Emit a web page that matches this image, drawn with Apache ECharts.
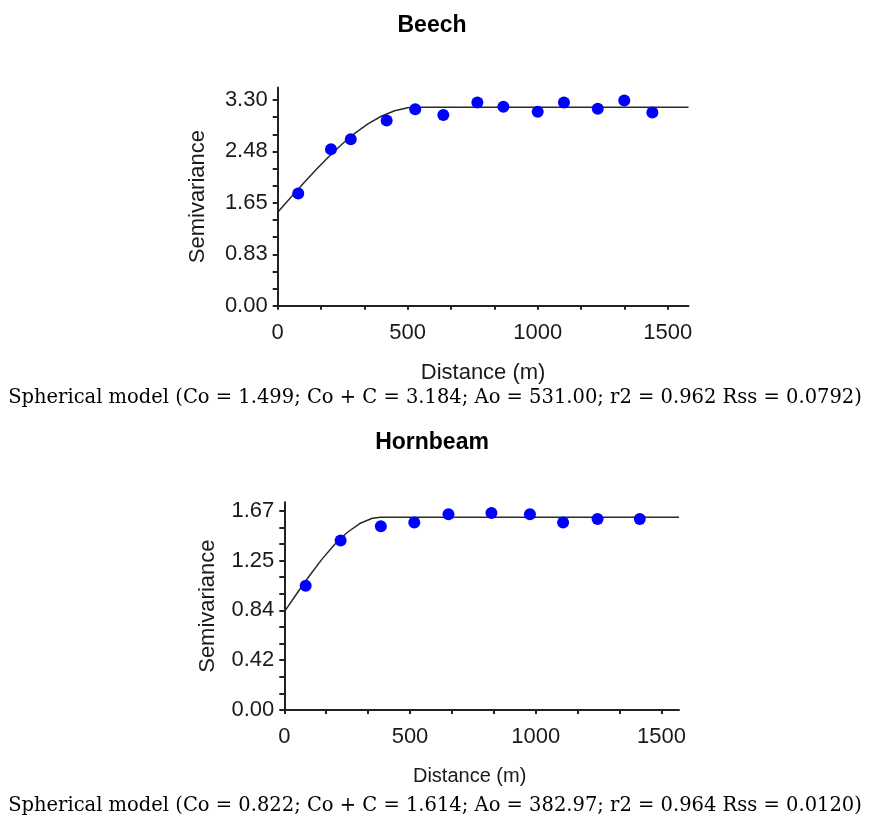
<!DOCTYPE html>
<html>
<head>
<meta charset="utf-8">
<script src="https://cdn.jsdelivr.net/npm/echarts@6/dist/echarts.min.js"></script>
<style>
html,body{margin:0;padding:0;background:#fff;}
#chart{width:869px;height:823px;}
</style>
</head>
<body>
<div id="chart"></div>
<script>
// ---- Data ----
const beechDist = [79, 205, 281, 419, 529, 637, 768, 868, 1000, 1101, 1231, 1333, 1441];
const beechSemi = [1.80, 2.51, 2.67, 2.97, 3.15, 3.06, 3.26, 3.19, 3.11, 3.26, 3.16, 3.29, 3.10];
const beechModelDist = [0, 50, 100, 150, 200, 250, 300, 350, 400, 450, 500, 531, 1580];
const beechModelSemi = [1.499, 1.736, 1.969, 2.194, 2.406, 2.601, 2.775, 2.924, 3.043, 3.128, 3.176, 3.184, 3.184];

const hornDist = [85, 224, 384, 517, 653, 824, 977, 1109, 1246, 1414];
const hornSemi = [1.04, 1.42, 1.54, 1.57, 1.64, 1.65, 1.64, 1.57, 1.60, 1.60];
const hornModelDist = [0, 50, 100, 150, 200, 250, 300, 350, 383, 1570];
const hornModelSemi = [0.822, 0.976, 1.125, 1.264, 1.386, 1.487, 1.562, 1.606, 1.614, 1.614];

const xTickValues = [0, 500, 1000, 1500];
const xTickLabels = ['0', '500', '1000', '1500'];
const beechYTickValues = [0, 0.825, 1.65, 2.475, 3.30];
const beechYTickLabels = ['0.00', '0.83', '1.65', '2.48', '3.30'];
const hornYTickValues = [0, 0.4175, 0.835, 1.2525, 1.67];
const hornYTickLabels = ['0.00', '0.42', '0.84', '1.25', '1.67'];

const titles = ['Beech', 'Hornbeam'];
const captions = [
  'Spherical model (Co = 1.499; Co + C = 3.184; Ao = 531.00; r2 = 0.962 Rss = 0.0792)',
  'Spherical model (Co = 0.822; Co + C = 1.614; Ao = 382.97; r2 = 0.964 Rss = 0.0120)'
];
const xName = 'Distance (m)';
const yName = 'Semivariance';

// ---- Build helpers ----
function withMinor(major) {
  const out = [];
  for (let i = 0; i < major.length; i++) {
    out.push(major[i]);
    if (i < major.length - 1) {
      const step = (major[i + 1] - major[i]) / 3;
      out.push(major[i] + step, major[i] + 2 * step);
    }
  }
  return out;
}
function labelFor(values, labels) {
  return function (v) {
    let best = 0, d = Infinity;
    values.forEach((t, i) => { const dd = Math.abs(t - v); if (dd < d) { d = dd; best = i; } });
    return labels[best];
  };
}
const font = 'Liberation Sans, Arial, sans-serif';
const axisColor = '#222';
const textColor = '#1a1a1a';

function xAxes(gridIndex, max, nameGap, nameSize, namePad) {
  const ticks = withMinor(xTickValues);
  return [{
    type: 'value', gridIndex, min: 0, max,
    splitLine: { show: false },
    axisLine: { show: true, onZero: false, lineStyle: { color: axisColor, width: 2 } },
    axisTick: { show: true, length: 4, customValues: ticks, lineStyle: { color: axisColor, width: 2 } },
    axisLabel: { show: true, customValues: xTickValues, formatter: labelFor(xTickValues, xTickLabels),
      fontFamily: font, fontSize: 22, color: textColor, margin: 16 },
    name: xName, nameLocation: 'middle', nameGap,
    nameTextStyle: { fontFamily: font, fontSize: nameSize, color: textColor, padding: namePad }
  }, {
    type: 'value', gridIndex, min: 0, max,
    splitLine: { show: false },
    axisLine: { show: false },
    axisTick: { show: true, inside: true, length: 4, customValues: ticks, lineStyle: { color: axisColor, width: 2 } },
    axisLabel: { show: false }
  }];
}
function yAxes(gridIndex, max, vals, labs, nameGap) {
  const ticks = withMinor(vals);
  return [{
    type: 'value', gridIndex, min: 0, max,
    splitLine: { show: false },
    axisLine: { show: true, onZero: false, lineStyle: { color: axisColor, width: 2 } },
    axisTick: { show: true, length: 5, customValues: ticks, lineStyle: { color: axisColor, width: 2 } },
    axisLabel: { show: true, customValues: vals, formatter: labelFor(vals, labs),
      fontFamily: font, fontSize: 22, color: textColor, margin: 10 },
    name: yName, nameLocation: 'middle', nameRotate: 90, nameGap,
    nameTextStyle: { fontFamily: font, fontSize: 22, color: textColor }
  }, {
    type: 'value', gridIndex, min: 0, max,
    splitLine: { show: false },
    axisLine: { show: false },
    axisTick: { show: true, inside: true, length: 5, customValues: ticks, lineStyle: { color: axisColor, width: 2 } },
    axisLabel: { show: false }
  }];
}
function pairs(xs, ys) { return xs.map((x, i) => [x, ys[i]]); }

const chart = echarts.init(document.getElementById('chart'), null, { renderer: 'canvas' });
const option = {
  backgroundColor: '#fff',
  animation: false,
  grid: [
    { left: 277.7, top: 87.5, width: 410.8, height: 218.2 },
    { left: 284.3, top: 502.3, width: 394.7, height: 207.7 }
  ],
  xAxis: [].concat(xAxes(0, 1580, 56, 22, 0), xAxes(1, 1570, 56, 20, [0, 24, 0, 0])),
  yAxis: [].concat(yAxes(0, 3.5, beechYTickValues, beechYTickLabels, 69),
                   yAxes(1, 1.74, hornYTickValues, hornYTickLabels, 65)),
  series: [
    { type: 'line', xAxisIndex: 0, yAxisIndex: 0, data: pairs(beechModelDist, beechModelSemi),
      showSymbol: false, smooth: false, lineStyle: { color: '#2a2a2a', width: 1.5 }, z: 2 },
    { type: 'scatter', xAxisIndex: 0, yAxisIndex: 0, data: pairs(beechDist, beechSemi),
      symbolSize: 12, itemStyle: { color: '#0000ff', opacity: 1 }, z: 3 },
    { type: 'line', xAxisIndex: 2, yAxisIndex: 2, data: pairs(hornModelDist, hornModelSemi),
      showSymbol: false, smooth: false, lineStyle: { color: '#2a2a2a', width: 1.5 }, z: 2 },
    { type: 'scatter', xAxisIndex: 2, yAxisIndex: 2, data: pairs(hornDist, hornSemi),
      symbolSize: 12, itemStyle: { color: '#0000ff', opacity: 1 }, z: 3 }
  ],
  graphic: [
    { type: 'text', x: 432, y: 26, style: { text: titles[0], fontFamily: font, fontWeight: 'bold', fontSize: 23, fill: '#000', textAlign: 'center', textVerticalAlign: 'middle' } },
    { type: 'text', x: 432, y: 443, style: { text: titles[1], fontFamily: font, fontWeight: 'bold', fontSize: 23, fill: '#000', textAlign: 'center', textVerticalAlign: 'middle' } },
    { type: 'text', x: 435, y: 398, style: { text: captions[0], fontFamily: 'DejaVu Serif, serif', fontSize: 19.5, fill: '#000', textAlign: 'center', textVerticalAlign: 'middle' } },
    { type: 'text', x: 435, y: 806, style: { text: captions[1], fontFamily: 'DejaVu Serif, serif', fontSize: 19.5, fill: '#000', textAlign: 'center', textVerticalAlign: 'middle' } }
  ]
};
chart.setOption(option);
</script>
</body>
</html>
